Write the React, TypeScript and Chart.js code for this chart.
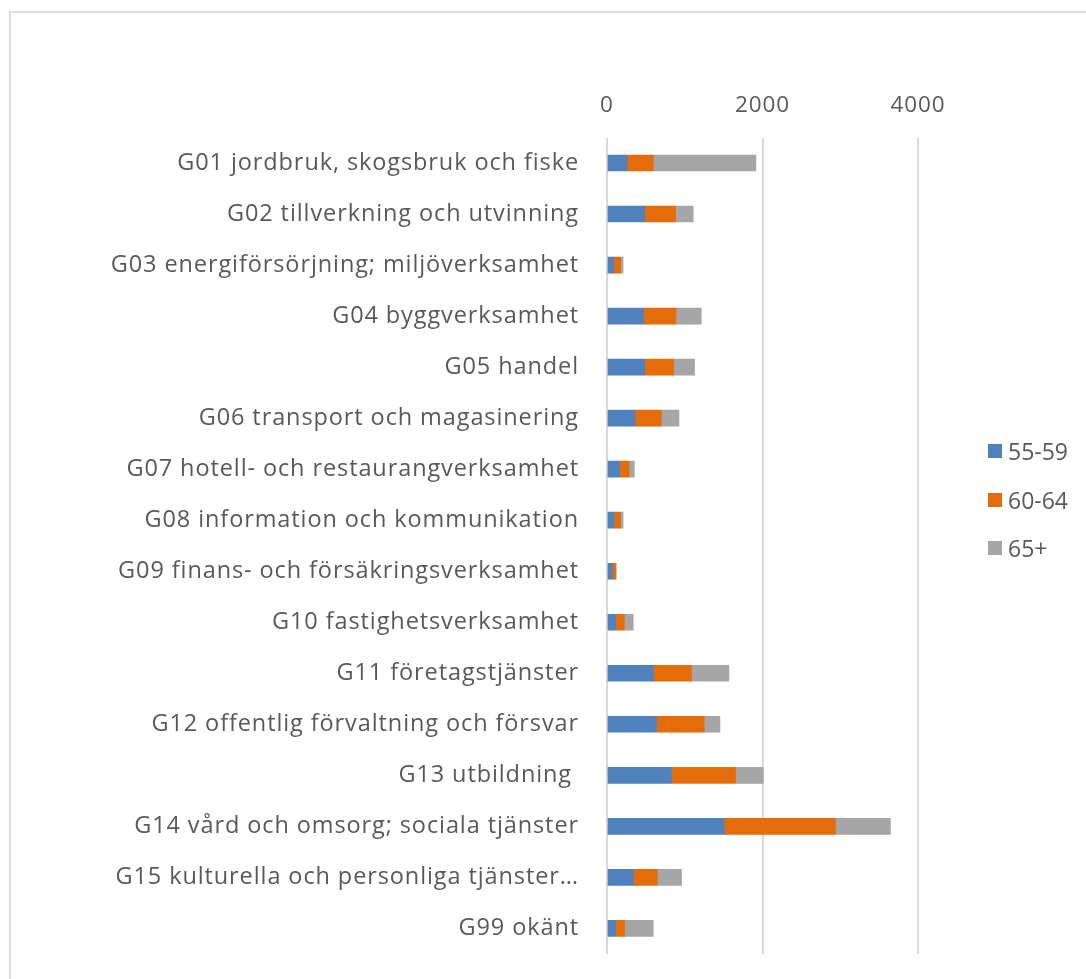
import React, { useEffect, useRef } from "react";
import { Chart, registerables } from "chart.js";

Chart.register(...registerables);

const categories = [
  "G01 jordbruk, skogsbruk och fiske",
  "G02 tillverkning och utvinning",
  "G03 energiförsörjning; miljöverksamhet",
  "G04 byggverksamhet",
  "G05 handel",
  "G06 transport och magasinering",
  "G07 hotell- och restaurangverksamhet",
  "G08 information och kommunikation",
  "G09 finans- och försäkringsverksamhet",
  "G10 fastighetsverksamhet",
  "G11 företagstjänster",
  "G12 offentlig förvaltning och försvar",
  "G13 utbildning ",
  "G14 vård och omsorg; sociala tjänster",
  "G15 kulturella och personliga tjänster…",
  "G99 okänt",
];

const s5559 = [257, 484, 85, 470, 484, 360, 162, 90, 68, 111, 599, 637, 830, 1507, 342, 111];
const s6064 = [338, 398, 90, 417, 372, 338, 121, 85, 43, 111, 488, 613, 823, 1431, 304, 115];
const s65 = [1320, 227, 31, 325, 270, 227, 68, 31, 9, 116, 481, 202, 356, 707, 313, 369];

const seriesNames = ["55-59", "60-64", "65+"];
const seriesColors = ["#4F81BD", "#E46C0A", "#A6A6A6"];
const xTicks = [0, 2000, 4000];

const FONT = "'Open Sans', sans-serif";
const TEXT = "#595959";

const spacingPlugin = {
  id: "letterSpacing",
  beforeDraw(chart: any) {
    chart.ctx.letterSpacing = "0.9px";
  },
};

export default function App() {
  const ref = useRef<HTMLCanvasElement | null>(null);

  useEffect(() => {
    if (!ref.current) return;
    const chart = new Chart(ref.current, {
      type: "bar",
      data: {
        labels: categories,
        datasets: [s5559, s6064, s65].map((d, i) => ({
          label: seriesNames[i],
          data: d,
          backgroundColor: seriesColors[i],
          borderWidth: 0,
          barThickness: 16,
        })),
      },
      plugins: [spacingPlugin],
      options: {
        indexAxis: "y",
        animation: false,
        responsive: false,
        maintainAspectRatio: false,
        layout: { padding: { left: 0, right: 168, top: 0, bottom: 9 } },
        plugins: { legend: { display: false }, tooltip: { enabled: false } },
        scales: {
          x: {
            position: "top",
            stacked: true,
            min: 0,
            max: 4000,
            afterBuildTicks: (axis: any) => {
              axis.ticks = xTicks.map((v) => ({ value: v }));
            },
            afterFit: (axis: any) => {
              axis.height = 137.5;
            },
            grid: { color: "#D9D9D9", lineWidth: 2, drawTicks: false },
            border: { display: false },
            ticks: {
              color: TEXT,
              font: { family: FONT, size: 22.5 },
              padding: 18,
              maxRotation: 0,
              callback: (v: any) => String(v),
            },
          },
          y: {
            stacked: true,
            afterFit: (axis: any) => {
              axis.width = 607;
            },
            grid: { display: false, drawTicks: false },
            border: { display: false },
            ticks: {
              color: TEXT,
              font: { family: FONT, size: 23.5 },
              padding: 28,
              autoSkip: false,
            },
          },
        },
      },
    });
    return () => chart.destroy();
  }, []);

  return (
    <div style={{ position: "fixed", left: 0, top: 0, width: 1086, height: 979, overflow: "hidden", background: "#fff" }}>
      <div
        style={{
          position: "absolute",
          left: 9,
          top: 11,
          width: 1200,
          height: 1100,
          border: "2px solid #DCDCDC",
          boxSizing: "border-box",
        }}
      />
      <canvas ref={ref} width={1086} height={996} style={{ position: "absolute", left: 0, top: 0, width: 1086, height: 996 }} />
      {seriesNames.map((n, i) => (
        <div
          key={n}
          style={{
            position: "absolute",
            left: 988,
            top: 451 + i * 48.5 - 15,
            height: 30,
            display: "flex",
            alignItems: "center",
            fontFamily: FONT,
            fontSize: 23,
            color: TEXT,
          }}
        >
          <span style={{ display: "inline-block", width: 14, height: 14, background: seriesColors[i], marginRight: 6 }} />
          {n}
        </div>
      ))}
    </div>
  );
}
